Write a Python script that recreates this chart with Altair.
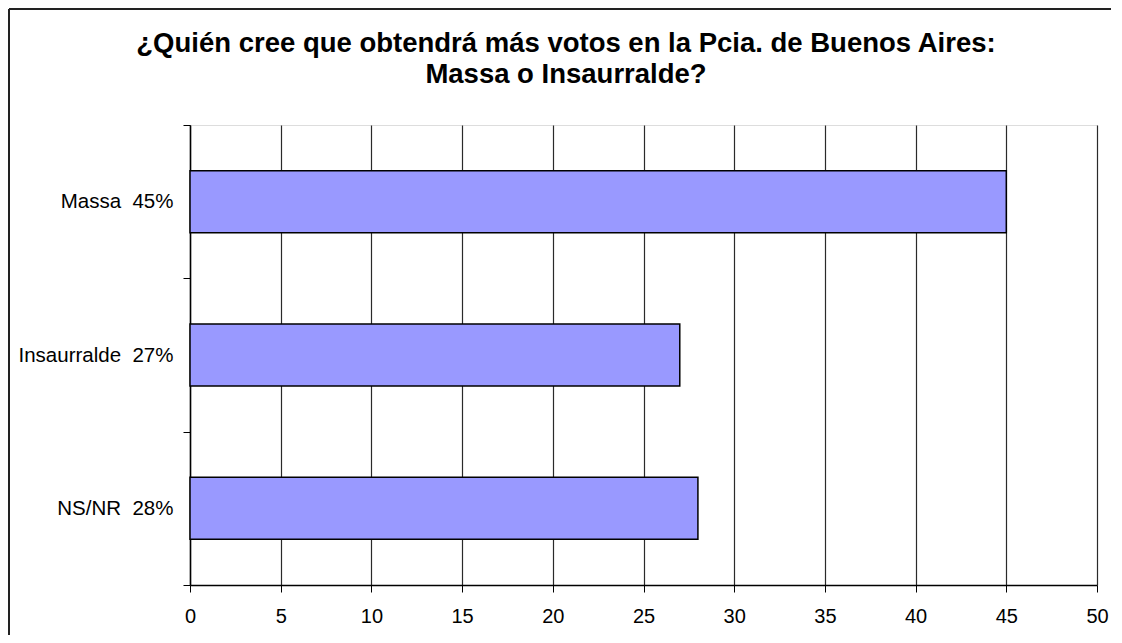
import altair as alt
import pandas as pd

categories = ["Massa\u00a0\u00a045%", "Insaurralde\u00a0\u00a027%", "NS/NR\u00a0\u00a028%"]
values = [45, 27, 28]
x_ticks = [0, 5, 10, 15, 20, 25, 30, 35, 40, 45, 50]
title_lines = ["¿Quién cree que obtendrá más votos en la Pcia. de Buenos Aires:",
               "Massa o Insaurralde?"]

df = pd.DataFrame({"cat": categories, "val": values})

FONT = "Liberation Sans"

bars = alt.Chart(df).mark_bar(
    color="#9999FF", stroke="#000000", strokeWidth=1.5, size=62
).encode(
    x=alt.X("val:Q", scale=alt.Scale(domain=[0, 50], nice=False),
            axis=alt.Axis(values=x_ticks, title=None, grid=True, gridColor="#2a2a2a",
                          gridWidth=1.2, tickSize=7, tickColor="#000000",
                          domainColor="#000000", domainWidth=1.5,
                          labelFont=FONT, labelFontSize=20, labelColor="#000000",
                          labelPadding=14, labelFlush=False)),
    y=alt.Y("cat:N", sort=categories, scale=alt.Scale(paddingInner=0, paddingOuter=0),
            axis=alt.Axis(title=None, tickBand="extent", tickSize=7, tickColor="#000000",
                          domainColor="#000000", domainWidth=1.5, grid=False,
                          labelFont=FONT, labelFontSize=20.5, labelColor="#000000",
                          labelPadding=10)),
)

title1 = alt.Chart(pd.DataFrame({"t": [title_lines[0]]})).mark_text(
    font=FONT, fontSize=27.5, fontWeight="bold", color="#000000",
    align="center", baseline="alphabetic"
).encode(text="t:N", x=alt.value(376), y=alt.value(-73))

title2 = alt.Chart(pd.DataFrame({"t": [title_lines[1]]})).mark_text(
    font=FONT, fontSize=27.5, fontWeight="bold", color="#000000",
    align="center", baseline="alphabetic"
).encode(text="t:N", x=alt.value(376), y=alt.value(-42))

frame_left = alt.Chart(df).mark_rule(color="#222222", strokeWidth=2).encode(
    x=alt.value(-181), y=alt.value(-116), y2=alt.value(520)
)
frame_top = alt.Chart(df).mark_rule(color="#222222", strokeWidth=2).encode(
    x=alt.value(-181), x2=alt.value(925), y=alt.value(-116)
)

chart = alt.layer(bars, title1, title2, frame_left, frame_top).properties(
    width=907, height=460,
    autosize=alt.AutoSizeParams(type="none"),
    padding={"left": 182, "top": 117, "right": 14, "bottom": 50},
).configure_view(stroke="#808080", strokeWidth=2).configure(background="#ffffff")

chart.save("out.html", embed_options={"renderer": "svg", "actions": False})
